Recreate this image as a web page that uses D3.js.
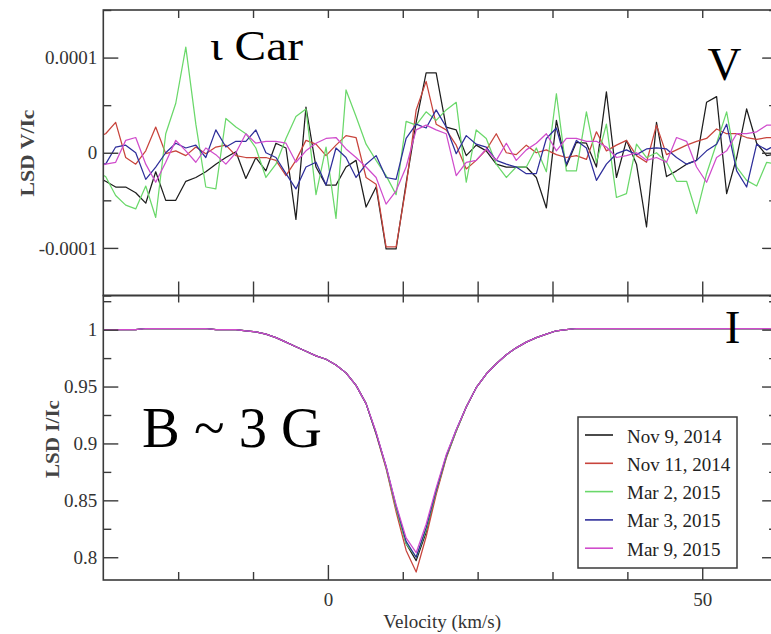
<!DOCTYPE html>
<html><head><meta charset="utf-8">
<script src="https://cdn.jsdelivr.net/npm/d3@7"></script>
<style>body{margin:0;background:#fff;overflow:hidden} svg{display:block}</style>
</head><body><svg id="c" width="771" height="634"></svg>
<script>
// ---------------- DATA ----------------
const velocity = [-31.02,-29.69,-28.35,-27.01,-25.67,-24.33,-23.00,-21.66,-20.32,-18.98,
 -17.64,-16.31,-14.97,-13.63,-12.29,-10.96,-9.62,-8.28,-6.94,-5.60,
 -4.27,-2.93,-1.59,-0.25,1.08,2.42,3.76,5.10,6.44,7.77,
 9.11,10.45,11.79,13.12,14.46,15.80,17.14,18.48,19.81,21.15,
 22.49,23.83,25.16,26.50,27.84,29.18,30.52,31.85,33.19,34.53,
 35.87,37.20,38.54,39.88,41.22,42.56,43.89,45.23,46.57,47.91,
 49.24,50.58,51.92,53.26,54.60,55.93,57.27,58.61,59.95,61.28];

const seriesNames = ["Nov 9, 2014","Nov 11, 2014","Mar 2, 2015","Mar 3, 2015","Mar 9, 2015"];

// Stokes V (units of 1e-5)
const vNov9 = [-2.5,-3,-3.6,-3.6,-4.2,-5.3,-2,-5,-5,-3,
 -2.6,-2,-1.2,-0.5,0.1,-2.7,-0.5,-1.9,1,0.5,
 -7,4.8,-1.5,-3.4,-3.4,-1.5,-0.8,-5.7,-3.6,-10.1,
 -10.1,-3.2,3.2,8.4,8.4,2.7,2.4,-0.3,0.8,0.2,
 -1.2,-1.5,-1.5,-1.5,-2.6,-5.8,3.4,-1.4,1.1,1,
 -1.5,6.4,-2.6,1.3,-1.2,-7.8,3.2,-2.5,-1.9,-1.2,
 -0.8,5.3,5.9,-4.3,-0.5,4.6,1,-0.3,-0.1,0];
const vNov11 = [1.6,2,3.2,-0.5,-1.2,0.2,2.7,-0.1,0.2,-0.3,
 0.6,-0.1,0.6,0.8,-0.3,-0.5,-0.5,-0.5,-0.8,-2.4,
 -0.8,1.3,0.9,-0.3,0.8,1.8,1.6,-2.6,-3.3,-9.9,
 -9.9,-3.5,4.5,7.5,3,2.4,0.8,-1.7,-0.8,0.3,
 2,0,-0.2,0.8,0,0.3,-0.2,-0.5,-0.3,-0.7,
 2.2,0.2,0.8,1.3,-0.3,-1,2.9,-0.2,0.3,0.8,
 1.2,1.5,2.5,2,2,1.6,1.4,1.6,1.6,1.5];
const vMar2 = [-2,-2.5,-4.5,-5.5,-5.9,-3.5,-6.8,2,5.2,11.1,
 3,-3.6,-3.8,3.6,2.7,2,0.5,-2.6,-1.2,1.5,
 3.8,4.6,-4.4,0.6,-6.9,6.6,3.8,0.9,-0.8,-2.4,
 -4.4,3.3,2.9,4.3,3.4,4.5,5.3,-3.1,2.4,1.5,
 -1.2,-2.6,-1.5,-1.5,0.5,-2,6.2,-1.9,-1.9,4.3,
 -1,3,-4.7,-4.3,0.9,-0.5,0,-1,-3,-3,
 -6.4,-2.2,1,4.3,-1.5,-2.9,-3.5,-1,-1.2,-1];
const vMar3 = [-1,-1.2,0.6,0.8,0,-2.8,-1.5,0,1,0.5,
 0.8,-0.5,2.4,0.6,1.2,1.2,2.4,0,-0.5,-2.2,
 -3.8,-1.5,-1,-3.4,0.5,-0.5,-2.6,-1.2,-0.3,-2.6,
 -2.8,1.5,3,2.6,4.5,2.7,-0.1,1.8,0.9,0.6,
 -0.8,-1.2,-1.5,-2.2,-2.2,1.5,2.6,-1.2,1.3,0.5,
 -2.9,-1.2,-0.1,0.3,-0.2,0.4,0.5,0.4,-0.5,-1.2,
 -0.8,0.2,0.9,3,-1.9,-3.6,0.9,0.3,0.9,0.8];
const vMar9 = [-1.5,-1.2,-1,1.3,1.6,-1.2,-3.1,-1,1.3,0.2,
 -1,0.5,-0.2,-1.2,0,2,1,1.2,1.2,1,
 -1,0.2,1,1.5,1.6,0.4,-0.5,-1.5,-2.6,-5.4,
 -4,-1.5,2.4,2.9,2.4,2,-2.4,-1,-0.8,0.4,
 -0.8,1,-0.8,0.3,1,2,0.2,1.5,1.5,1.2,
 1.2,0.6,-0.5,-0.3,0,-0.8,-0.5,-1,1.6,1.2,
 -1.5,-3.1,-0.5,0.2,2,2,2.2,2.9,2.9,3];

// Stokes I / Ic
const iNov9 = [1,1,1,1,1,1.001,1.001,1.001,1.001,1.001,
 1.001,1.001,1,1,1,0.999,0.998,0.996,0.993,0.989,
 0.985,0.981,0.977,0.974,0.969,0.962,0.951,0.935,0.909,0.879,
 0.843,0.812,0.797,0.822,0.857,0.888,0.911,0.932,0.949,0.961,
 0.970,0.978,0.984,0.989,0.993,0.996,0.999,1,1.001,1.001,
 1.001,1.001,1.001,1.001,1.001,1.001,1.001,1.001,1.001,1.001,
 1.001,1.001,1.001,1.001,1.001,1.001,1.001,1.001,1.001,1.001];
const iNov11 = [1,1,1,1,1,1.001,1.001,1.001,1.001,1.001,
 1.001,1.001,1,1,1,0.999,0.998,0.996,0.993,0.989,
 0.985,0.981,0.977,0.974,0.969,0.962,0.951,0.935,0.908,0.878,
 0.840,0.806,0.787,0.818,0.855,0.887,0.911,0.932,0.949,0.961,
 0.970,0.978,0.984,0.989,0.993,0.996,0.999,1,1.001,1.001,
 1.001,1.001,1.001,1.001,1.001,1.001,1.001,1.001,1.001,1.001,
 1.001,1.001,1.001,1.001,1.001,1.001,1.001,1.001,1.001,1.001];
const iMar2 = [1,1,1,1,1,1.001,1.001,1.001,1.001,1.001,
 1.001,1.001,1,1,1,0.999,0.998,0.996,0.993,0.989,
 0.985,0.981,0.977,0.974,0.969,0.962,0.951,0.935,0.909,0.879,
 0.843,0.812,0.800,0.824,0.858,0.888,0.911,0.932,0.949,0.961,
 0.970,0.978,0.984,0.989,0.993,0.996,0.999,1,1.001,1.001,
 1.001,1.001,1.001,1.001,1.001,1.001,1.001,1.001,1.001,1.001,
 1.001,1.001,1.001,1.001,1.001,1.001,1.001,1.001,1.001,1.001];
const iMar3 = [1,1,1,1,1,1.001,1.001,1.001,1.001,1.001,
 1.001,1.001,1,1,1,0.999,0.998,0.996,0.993,0.989,
 0.985,0.981,0.977,0.974,0.969,0.962,0.951,0.935,0.909,0.880,
 0.845,0.814,0.800,0.826,0.859,0.889,0.912,0.932,0.949,0.961,
 0.970,0.978,0.984,0.989,0.993,0.996,0.999,1,1.001,1.001,
 1.001,1.001,1.001,1.001,1.001,1.001,1.001,1.001,1.001,1.001,
 1.001,1.001,1.001,1.001,1.001,1.001,1.001,1.001,1.001,1.001];
const iMar9 = [1,1,1,1,1,1.001,1.001,1.001,1.001,1.001,
 1.001,1.001,1,1,1,0.999,0.998,0.996,0.993,0.989,
 0.985,0.981,0.977,0.974,0.969,0.962,0.951,0.935,0.910,0.880,
 0.846,0.817,0.804,0.829,0.861,0.890,0.912,0.932,0.949,0.961,
 0.970,0.978,0.984,0.989,0.993,0.996,0.999,1,1.001,1.001,
 1.001,1.001,1.001,1.001,1.001,1.001,1.001,1.001,1.001,1.001,
 1.001,1.001,1.001,1.001,1.001,1.001,1.001,1.001,1.001,1.001];

const vTickValues = [-10,0,10];
const vTickLabels = ["-0.0001","0","0.0001"];
const vMinorTicks = [-15,-5,5,15];
const iTickValues = [0.8,0.85,0.9,0.95,1];
const iTickLabels = ["0.8","0.85","0.9","0.95","1"];
const iMinorTicks = [0.825,0.875,0.925,0.975,1.025];
const xTickValues = [0,50];
const xTickLabels = ["0","50"];
const xMinorTicks = [-20,-10,10,20,30,40];
const xAllTicks = [-20,-10,0,10,20,30,40,50];

// ---------------- STYLE ----------------
const colors = ["#1e1e1e","#c8443c","#6ad86a","#2e2e9a","#d04ccc"];
const serif = "Liberation Serif";
const frameColor = "#3a3a3a";

const L = 103.3, R = 777.1, T1 = 10, B1 = 295.5, T2 = 295.5, B2 = 580;
const x = d3.scaleLinear().domain([-30, 60]).range([L, R]);
const yV = d3.scaleLinear().domain([-15, 15]).range([B1, T1]);
const yI = d3.scaleLinear().domain([0.78, 1.03]).range([B2, T2]);

const svg = d3.select("#c");
const defs = svg.append("defs");
defs.append("clipPath").attr("id","clipV").append("rect").attr("x",L).attr("y",T1).attr("width",R-L).attr("height",B1-T1);
defs.append("clipPath").attr("id","clipI").append("rect").attr("x",L).attr("y",T2).attr("width",R-L).attr("height",B2-T2);

const vSeries = [vNov9, vNov11, vMar2, vMar3, vMar9];
const iSeries = [iNov9, iNov11, iMar2, iMar3, iMar9];

const lineV = d3.line().x((d,i)=>x(velocity[i])).y(d=>yV(d));
const lineI = d3.line().x((d,i)=>x(velocity[i])).y(d=>yI(d));

const gV = svg.append("g").attr("clip-path","url(#clipV)");
vSeries.forEach((s,k)=>{
  gV.append("path").attr("d", lineV(s)).attr("fill","none")
    .attr("stroke", colors[k]).attr("stroke-width",1.25).attr("stroke-linejoin","round");
});
const gI = svg.append("g").attr("clip-path","url(#clipI)");
iSeries.forEach((s,k)=>{
  gI.append("path").attr("d", lineI(s)).attr("fill","none")
    .attr("stroke", colors[k]).attr("stroke-width",1.25).attr("stroke-linejoin","round");
});

function drawAxis(gen, tx, ty){
  const g = svg.append("g").attr("transform",`translate(${tx},${ty})`).call(gen);
  g.attr("font-family",serif).attr("font-size",19);
  g.select(".domain").remove();
  g.selectAll("line").attr("stroke",frameColor).attr("stroke-width",1.4);
  g.selectAll("text").attr("font-family",serif).attr("font-size",19).attr("fill","#333");
  return g;
}
// top panel axes
drawAxis(d3.axisLeft(yV).tickValues(vTickValues).tickSize(-15).tickPadding(6).tickFormat((d,i)=>vTickLabels[i]), L, 0);
drawAxis(d3.axisLeft(yV).tickValues(vMinorTicks).tickSize(-8).tickFormat(""), L, 0);
drawAxis(d3.axisRight(yV).tickValues(vTickValues).tickSize(-15).tickFormat(""), R, 0);
drawAxis(d3.axisRight(yV).tickValues(vMinorTicks).tickSize(-8).tickFormat(""), R, 0);
drawAxis(d3.axisTop(x).tickValues(xAllTicks).tickSize(-8).tickFormat(""), 0, T1);
drawAxis(d3.axisBottom(x).tickValues(xAllTicks).tickSize(-14).tickFormat(""), 0, B1);
// bottom panel axes
drawAxis(d3.axisLeft(yI).tickValues(iTickValues).tickSize(-15).tickPadding(6).tickFormat((d,i)=>iTickLabels[i]), L, 0);
drawAxis(d3.axisLeft(yI).tickValues(iMinorTicks).tickSize(-8).tickFormat(""), L, 0);
drawAxis(d3.axisRight(yI).tickValues(iTickValues).tickSize(-15).tickFormat(""), R, 0);
drawAxis(d3.axisRight(yI).tickValues(iMinorTicks).tickSize(-8).tickFormat(""), R, 0);
drawAxis(d3.axisTop(x).tickValues(xAllTicks).tickSize(-7).tickFormat(""), 0, T2);
drawAxis(d3.axisBottom(x).tickValues(xTickValues).tickSize(-15).tickPadding(13).tickFormat((d,i)=>xTickLabels[i]), 0, B2);
drawAxis(d3.axisBottom(x).tickValues(xMinorTicks).tickSize(-8).tickFormat(""), 0, B2);

// frames
[[T1,B1],[T2,B2]].forEach(([t,b])=>{
  svg.append("rect").attr("x",L).attr("y",t).attr("width",R-L).attr("height",b-t)
    .attr("fill","none").attr("stroke",frameColor).attr("stroke-width",1.6);
});

function txt(size){ return svg.append("text").attr("font-family",serif).attr("font-size",size); }

// axis titles
txt(19).attr("transform","translate(34,153) rotate(-90)").attr("text-anchor","middle")
  .attr("font-weight","bold").attr("fill","#444")
  .attr("textLength",87).attr("lengthAdjust","spacingAndGlyphs").text("LSD V/Ic");
txt(19).attr("transform","translate(59,439) rotate(-90)").attr("text-anchor","middle")
  .attr("font-weight","bold").attr("fill","#444")
  .attr("textLength",78).attr("lengthAdjust","spacingAndGlyphs").text("LSD I/Ic");
txt(19).attr("x",(L+R)/2+2).attr("y",628).attr("text-anchor","middle")
  .attr("fill","#333").text("Velocity (km/s)");

// annotations
txt(42).attr("x",210).attr("y",60)
  .attr("fill","#000").attr("textLength",93).attr("lengthAdjust","spacingAndGlyphs").text("ι Car");
txt(47).attr("x",724.5).attr("y",80).attr("text-anchor","middle").attr("fill","#000").text("V");
txt(58).attr("x",142).attr("y",447)
  .attr("fill","#000").attr("textLength",180).attr("lengthAdjust","spacingAndGlyphs").text("B ~ 3 G");
txt(47).attr("x",732.5).attr("y",343).attr("text-anchor","middle").attr("fill","#000").text("I");

// legend
const leg = svg.append("g");
leg.append("rect").attr("x",578).attr("y",417).attr("width",159).attr("height",151)
  .attr("fill","#fff").attr("stroke",frameColor).attr("stroke-width",1.5);
seriesNames.forEach((n,k)=>{
  const cy = 435 + k*28.3;
  leg.append("line").attr("x1",585).attr("x2",613).attr("y1",cy).attr("y2",cy)
    .attr("stroke",colors[k]).attr("stroke-width",1.6);
  leg.append("text").attr("x",627).attr("y",cy+7.5).attr("font-family",serif)
    .attr("font-size",19).attr("fill","#222").text(n);
});
</script>
</body></html>
